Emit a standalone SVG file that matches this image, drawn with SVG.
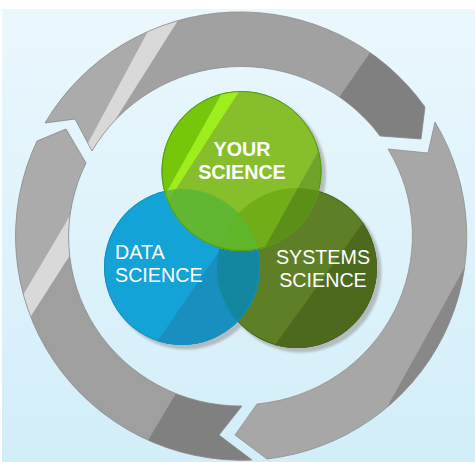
<svg xmlns="http://www.w3.org/2000/svg" width="475" height="462" viewBox="0 0 475 462">
<style>
.seg{stroke:#8e8e8e;stroke-width:0.8}
.lbl{font-family:"Liberation Sans",Arial,sans-serif;font-size:19.7px;fill:#ffffff}
.b{font-weight:bold}
</style>
<defs>
<linearGradient id="bg" x1="0" y1="0" x2="0" y2="1">
<stop offset="0" stop-color="#ebf7fd"/>
<stop offset="1" stop-color="#d2eef9"/>
</linearGradient>
<filter id="blur" x="-10%" y="-10%" width="120%" height="120%"><feGaussianBlur stdDeviation="1.3"/></filter>
<path id="pTop" d="M92,151 L75,119 L45,123 A226,224 0 0 1 425,107 L421,139 L380,136 A172,169 0 0 0 92,151 Z"/>
<path id="pRight" d="M388,149 L428,153 L435,122 A226,224 0 0 1 267,459 L235,435 L257,404 A172,169 0 0 0 388,149 Z"/>
<path id="pLeft" d="M242,406 L219,435 L252,460 A226,224 0 0 1 37,141 L66,129 L86,163 A172,169 0 0 0 242,406 Z"/>
<clipPath id="cTop"><use href="#pTop"/></clipPath>
<clipPath id="cRight"><use href="#pRight"/></clipPath>
<clipPath id="cLeft"><use href="#pLeft"/></clipPath>
<clipPath id="cY"><circle cx="241.5" cy="171" r="80"/></clipPath>
<clipPath id="cD"><circle cx="182" cy="267" r="78"/></clipPath>
<clipPath id="cS"><circle cx="297" cy="268" r="80"/></clipPath>
</defs>

<rect x="0" y="0" width="475" height="462" fill="#ffffff"/>
<rect x="2" y="9" width="473" height="453" fill="url(#bg)"/>

<g id="cycle">
<g id="arc-top">
<use href="#pTop" fill="#a1a1a1"/>
<g clip-path="url(#cTop)">
<polygon points="-10,170 73.5,170 162,5 -10,5" fill="#ababab"/>
<polygon points="73.5,170 162,5 187.7,5 83.5,170" fill="#d9d9d9"/>
<polygon points="403,5 480,5 480,160 296,160" fill="#808080"/>
</g>
<use href="#pTop" class="seg" fill="none"/>
</g>
<g id="arc-right">
<use href="#pRight" fill="#a7a7a7"/>
<g clip-path="url(#cRight)">
<polygon points="482,236 380,420 500,500 500,236" fill="#888888"/>
</g>
<use href="#pRight" class="seg" fill="none"/>
</g>
<g id="arc-left">
<use href="#pLeft" fill="#9f9f9f"/>
<g clip-path="url(#cLeft)">
<polygon points="-20,100 138.5,100 -15.5,360 -20,360" fill="#ababab"/>
<polygon points="91,180 118,180 15.7,340 -3.6,340" fill="#d9d9d9"/>
<polygon points="195.8,360 300,360 300,470 130.4,470" fill="#808080"/>
</g>
<use href="#pLeft" class="seg" fill="none"/>
</g>
</g>

<g id="shadows" filter="url(#blur)" fill="#9a9a9a" opacity="0.6">
<circle cx="245.5" cy="175" r="80.5"/>
<circle cx="186" cy="271" r="78.5"/>
<circle cx="301" cy="272" r="80.5"/>
</g>

<g id="systems-science">
<circle cx="297" cy="268" r="80" fill="#5f7f27"/>
<polygon points="393.8,180 400,180 400,360 264.2,360" fill="#4d691d" clip-path="url(#cS)"/>
<circle cx="297" cy="268" r="79.5" fill="none" stroke="#4a661c" stroke-width="1"/>
</g>

<g id="data-science">
<circle cx="182" cy="267" r="78" fill="#13a3d7"/>
<polygon points="267.6,180 300,180 300,360 144.7,360" fill="#198fc0" clip-path="url(#cD)"/>
<circle cx="182" cy="267" r="78" fill="#13879f" clip-path="url(#cS)"/>
<circle cx="182" cy="267" r="77.5" fill="none" stroke="#1290c2" stroke-width="1"/>
</g>

<g id="your-science">
<circle cx="241.5" cy="171" r="80" fill="#86bf2b"/>
<g clip-path="url(#cY)">
<polygon points="120,85 226.5,85 128.7,260 120,260" fill="#76c70a"/>
<polygon points="355.4,85 420,85 420,260 257.7,260" fill="#6fa42b"/>
<polygon points="226.5,85 243.2,85 130,260 128.7,260" fill="#9eee1e"/>
</g>
<circle cx="241.5" cy="171" r="80" fill="#70ad19" clip-path="url(#cS)"/>
<g clip-path="url(#cS)">
<polygon points="355.4,85 420,85 420,260 257.7,260" fill="#5c8f18" clip-path="url(#cY)"/>
</g>
<circle cx="241.5" cy="171" r="80" fill="#57b434" opacity="0.8" clip-path="url(#cD)"/>
<g clip-path="url(#cD)">
<circle cx="241.5" cy="171" r="80" fill="#5fb628" clip-path="url(#cS)"/>
</g>
<circle cx="241.5" cy="171" r="79.5" fill="none" stroke="#4f9a12" stroke-width="1"/>
</g>

<g id="labels">
<text class="lbl b" x="242" y="156" text-anchor="middle">YOUR</text>
<text class="lbl b" x="242" y="179" text-anchor="middle">SCIENCE</text>
<text class="lbl" x="115" y="259">DATA</text>
<text class="lbl" x="115" y="282">SCIENCE</text>
<text class="lbl" x="323" y="264" text-anchor="middle">SYSTEMS</text>
<text class="lbl" x="323" y="287" text-anchor="middle">SCIENCE</text>
</g>
</svg>
